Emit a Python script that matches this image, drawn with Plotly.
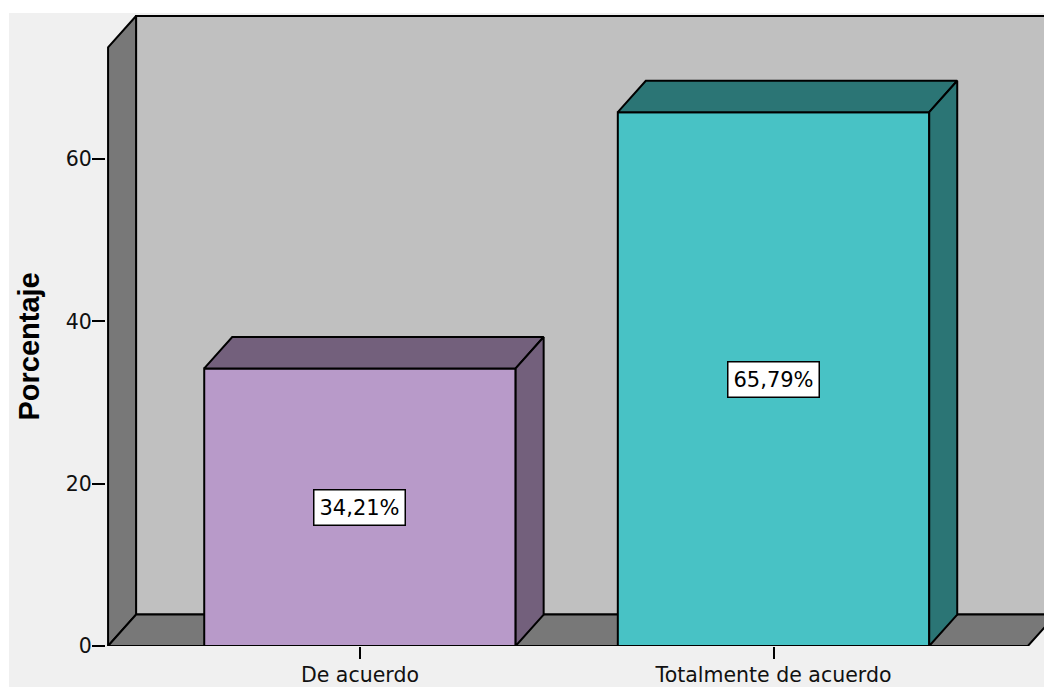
import plotly.graph_objects as go

# ---- data ----
categories = ["De acuerdo", "Totalmente de acuerdo"]
percentages = [34.21, 65.79]
y_ticks = [0, 20, 40, 60]
y_title = "Porcentaje"

# ---- style ----
front_colors = ["#b89ac9", "#48c2c5"]
dark_colors = ["#73607c", "#2b7575"]
wall_color = "#c0c0c0"
side_wall_color = "#787878"
outer_bg = "#f0f0f0"
edge = dict(color="black", width=2)
FONT = "DejaVu Sans"

W, H = 1044, 687
ML, MT, MB = 106, 14, 39
PW, PH = W - ML, H - MT - MB

bar_w = 0.753          # bar width in x-units
dx = 0.0677            # depth offset, x-units
dy = 3.87              # depth offset, y-units
x_lo, x_hi = -0.614, 1.654
y_hi = 77.89
wall_top = 77.64
wall_front_x = -0.609
floor_right = 1.615

fig = go.Figure()

def poly(xs, ys, color):
    fig.add_trace(go.Scatter(
        x=list(xs) + [xs[0]], y=list(ys) + [ys[0]],
        mode="lines", fill="toself", fillcolor=color, line=edge,
        hoverinfo="skip", showlegend=False))

# back wall
bx = wall_front_x + dx
poly([bx, bx, x_hi + 0.3, x_hi + 0.3], [dy, wall_top, wall_top, dy], wall_color)
# left wall
poly([wall_front_x, wall_front_x, bx, bx], [0, wall_top - dy, wall_top, dy], side_wall_color)
# floor
poly([wall_front_x, floor_right, floor_right + dx, bx], [0, 0, dy, dy], side_wall_color)

# bars
for i, (cat, v) in enumerate(zip(categories, percentages)):
    l = i - bar_w / 2
    r = i + bar_w / 2
    poly([l, r, r, l], [0, 0, v, v], front_colors[i])                       # front
    poly([l, r, r + dx, l + dx], [v, v, v + dy, v + dy], dark_colors[i])    # top
    poly([r, r + dx, r + dx, r], [0, dy, v + dy, v], dark_colors[i])        # side
    fig.add_annotation(
        x=i, y=v / 2, text=f"{v:.2f}".replace(".", ",") + "%",
        showarrow=False, bgcolor="white", bordercolor="black",
        borderwidth=1.5, borderpad=5,
        font=dict(family=FONT, size=21, color="black"))

# axis title (placed slightly below the plot centre, as in the reference)
fig.add_annotation(
    xref="paper", yref="y", x=(29 - ML) / PW, y=36.9,
    text=f"<b>{y_title}</b>", textangle=-90, showarrow=False,
    xanchor="center", yanchor="middle",
    font=dict(family="Liberation Sans", size=29, color="black"))

# white strips along the top and left edges of the image
fig.add_shape(type="rect", xref="paper", yref="paper",
              x0=-0.3, x1=1.1, y0=(PH + MT - 13) / PH, y1=1.2,
              fillcolor="white", line=dict(width=0), layer="below")
fig.add_shape(type="rect", xref="paper", yref="paper",
              x0=-0.3, x1=(9 - ML) / PW, y0=-0.2, y1=1.2,
              fillcolor="white", line=dict(width=0), layer="below")

fig.update_layout(
    width=W, height=H,
    margin=dict(l=ML, r=0, t=MT, b=MB),
    paper_bgcolor=outer_bg, plot_bgcolor="rgba(0,0,0,0)",
    font=dict(family=FONT, size=20.5, color="black"),
    xaxis=dict(range=[x_lo, x_hi], tickvals=list(range(len(categories))),
               ticktext=categories, ticks="outside", ticklen=12,
               tickwidth=1.5, tickcolor="black", showgrid=False,
               zeroline=False, showline=False, ticklabelstandoff=-2,
               tickfont=dict(family=FONT, size=20.5, color="#111")),
    yaxis=dict(range=[0, y_hi], tickvals=y_ticks, ticks="outside",
               ticklen=13, tickwidth=1.5, tickcolor="black",
               showgrid=False, zeroline=False, showline=False,
               ticklabelstandoff=-4,
               tickfont=dict(family=FONT, size=20.5, color="#111")),
)

fig.write_html(
    "out.html",
    config={"displayModeBar": False},
    post_script="document.body.style.margin='0';"
                "document.body.style.background='#f0f0f0';"
                "document.documentElement.style.overflow='hidden';",
)
